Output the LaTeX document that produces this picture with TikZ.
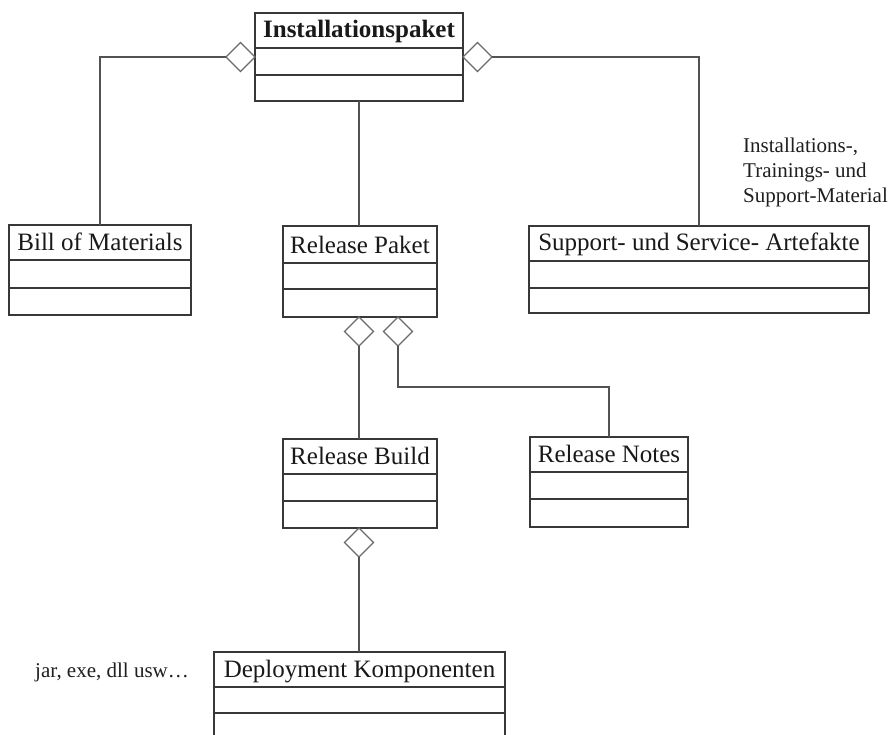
\documentclass[tikz,border=0pt]{standalone}
\usepackage{fontspec}
\setmainfont{Liberation Serif}
\usetikzlibrary{shapes.geometric}

% UML class box: name, left, top, width, first divider, second divider, height, title
\newcommand\umlclass[8]{%
  \node[classbox, anchor=north west, minimum width=#4pt, minimum height=#7pt] (#1) at (#2,#3) {};
  \draw[boxline] ([yshift=-#5pt]#1.north west) -- ([yshift=-#5pt]#1.north east);
  \draw[boxline] ([yshift=-#6pt]#1.north west) -- ([yshift=-#6pt]#1.north east);
  \node[classtitle, anchor=base] (#1-title) at ([yshift={(10-#5)*1pt}]#1.north) {#8};
}

\tikzset{
  boxline/.style={draw=black!78, line width=1.6pt},
  classbox/.style={boxline, fill=white, inner sep=0pt, outer sep=0pt},
  classtitle/.style={inner sep=0pt, font=\fontsize{25}{30}\selectfont, text=black!90},
  conn/.style={draw=black!68, line width=1.4pt},
  aggr/.style={diamond, draw=black!58, line width=1.3pt, fill=white, inner sep=0pt,
    minimum width=29pt, minimum height=29pt, outer sep=0pt},
  note/.style={inner sep=0pt, font=\fontsize{21}{25}\selectfont, text=black!88, align=left}
}

\begin{document}
\begin{tikzpicture}[x=1pt, y=-1pt]
  \clip (0,0) rectangle (893,735);
  \fill[white] (0,0) rectangle (893,735);

  % classes
  \umlclass{inst}{255}{13}{208}{35}{62}{88}{\bfseries Installationspaket}
  \umlclass{bill}{9}{225}{182}{35}{63}{90}{Bill of Materials}
  \umlclass{relp}{283}{226}{154}{37}{63}{91}{Release Paket}
  \umlclass{supp}{529}{226}{340}{35}{62}{87}{Support- und Service- Artefakte}
  \umlclass{rbuild}{283}{439}{154}{35}{62}{89}{Release Build}
  \umlclass{rnotes}{530}{437}{158}{35}{62}{90}{Release Notes}
  \umlclass{deploy}{214}{652}{291}{35}{61}{95}{Deployment Komponenten}

  % aggregation diamonds
  \node[aggr, anchor=east] (dbill) at (255,57) {};
  \node[aggr, anchor=west] (dsupp) at (463,57) {};
  \node[aggr, anchor=north] (dbuild) at (359,317) {};
  \node[aggr, anchor=north] (dnotes) at (398,317) {};
  \node[aggr, anchor=north] (ddeploy) at (359,528) {};
  \coordinate (bend) at (398,387);

  % connectors
  \draw[conn] (dbill.west) -| (bill.north);
  \draw[conn] (dsupp.east) -| (supp.north);
  \draw[conn] (inst.south) -- (inst.south |- relp.north);
  \draw[conn] (dbuild.south) -- (dbuild.south |- rbuild.north);
  \draw[conn] (dnotes.south) -- (bend) -| (rnotes.north);
  \draw[conn] (ddeploy.south) -- (ddeploy.south |- deploy.north);

  % notes
  \node[note, anchor=north west] (supnote) at (743,138)
    {Installations-,\\Trainings- und\\Support-Material};
  \node[note, anchor=base west] (depnote) at (35,677) {jar, exe, dll usw…};
\end{tikzpicture}
\end{document}
